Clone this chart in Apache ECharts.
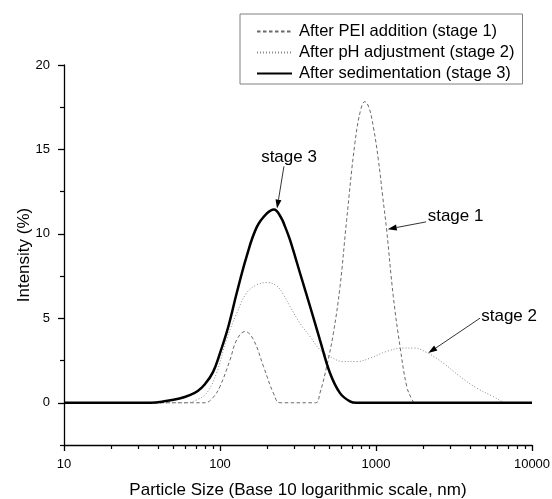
<!DOCTYPE html>
<html><head><meta charset="utf-8">
<script src="https://cdn.jsdelivr.net/npm/echarts@6/dist/echarts.min.js"></script>
<style>html,body{margin:0;padding:0;background:#fff}#c{width:552px;height:499px}</style>
</head><body><div id="c"></div>
<script>
// ---- data (particle size in nm, intensity in %) ----
const seriesNames = ['After PEI addition (stage 1)', 'After pH adjustment (stage 2)', 'After sedimentation (stage 3)'];

const stage1Size  = [10, 80, 90, 100, 116, 128, 145, 164, 190, 220, 243, 410, 437, 483, 533, 588, 648, 733, 800, 849, 900, 961, 1035, 1104, 1170, 1291, 1426, 1574, 1700, 1780, 10000];
const stage1Value = [0, 0, 0.3, 0.97, 2.54, 3.73, 4.22, 3.73, 2.15, 0.57, 0, 0, 0.57, 2.15, 4.12, 6.88, 10.8, 15.4, 17.4, 17.83, 17.5, 16.35, 14.4, 12.2, 10.24, 6.29, 3.33, 0.97, 0.2, 0, 0];

const stage2Size  = [10, 60, 70, 82, 95, 110, 128, 148, 172, 200, 231, 255, 281, 326, 378, 437, 507, 617, 752, 916, 1170, 1497, 1738, 2115, 2698, 3452, 4414, 5648, 6400, 6800, 10000];
const stage2Value = [0, 0, 0.15, 0.57, 1.76, 3.73, 5.3, 6.5, 6.98, 7.12, 6.92, 6.4, 5.7, 4.7, 3.92, 3.14, 2.74, 2.44, 2.44, 2.64, 3.04, 3.24, 3.24, 2.98, 2.35, 1.56, 0.87, 0.37, 0.08, 0, 0];

const stage3Size  = [10, 36, 45, 55, 64, 72, 80, 90, 100, 113, 128, 148, 172, 199, 222, 245, 262, 281, 326, 378, 437, 507, 588, 681, 750, 10000];
const stage3Value = [0, 0, 0.1, 0.25, 0.45, 0.7, 1.1, 1.8, 2.94, 4.5, 6.5, 8.66, 10.4, 11.2, 11.45, 11.0, 10.4, 9.64, 7.67, 5.7, 3.73, 1.76, 0.57, 0.08, 0, 0];

const xMajorTicks = [10, 100, 1000, 10000];
const xMinorTicks = [20, 30, 40, 50, 60, 70, 80, 90, 200, 300, 400, 500, 600, 700, 800, 900, 2000, 3000, 4000, 5000, 6000, 7000, 8000, 9000];
const yMajorTicks = [0, 5, 10, 15, 20];
const yMinorTicks = [-2.5, 2.5, 7.5, 12.5, 17.5];

// annotations: label, text centre [size, %], arrow start [size, %], arrow tip [size, %]
const annLabels = ['stage 3', 'stage 1', 'stage 2'];
const annText  = [[277, 14.56], [3236, 11.07], [7130, 5.12]];
const annFrom  = [[257, 14.0], [2094, 10.71], [4642, 5.01]];
const annTip   = [[232, 11.5], [1189, 10.28], [2163, 2.94]];

const zip = (a, b) => a.map((v, i) => [v, b[i]]);

const chart = echarts.init(document.getElementById('c'), null, {renderer: 'canvas'});
const font = 'Liberation Sans, Arial, sans-serif';

const xBase = {
  type: 'log', logBase: 10, min: 10, max: 10000, position: 'bottom', gridIndex: 0,
  splitLine: {show: false}
};
const yBase = {
  type: 'value', min: -2.5, max: 20, position: 'left', gridIndex: 0,
  splitLine: {show: false}
};

chart.setOption({
  animation: false,
  backgroundColor: '#fff',
  textStyle: {fontFamily: font},
  grid: {left: 64, right: 20, top: 65, bottom: 54, containLabel: false, outerBoundsMode: 'none'},
  legend: {
    orient: 'vertical', left: 240, top: 14,
    borderColor: '#808080', borderWidth: 1, backgroundColor: '#fff',
    padding: [9, 8, 2, 16], itemWidth: 35, itemHeight: 14, itemGap: 4,
    itemStyle: {color: 'rgba(0,0,0,0)', borderWidth: 0, opacity: 0},
    textStyle: {fontSize: 16.5, color: '#000', fontFamily: font, padding: [0, 0, 0, 2]},
    data: seriesNames
  },
  xAxis: [
    Object.assign({}, xBase, {
      name: 'Particle Size (Base 10 logarithmic scale, nm)',
      nameLocation: 'middle', nameGap: 37, nameMoveOverlap: false,
      nameTextStyle: {fontSize: 17, color: '#000', fontFamily: font},
      axisLine: {show: true, onZero: false, lineStyle: {color: '#000', width: 1.3}},
      axisTick: {show: true, inside: false, length: 6, customValues: xMajorTicks, lineStyle: {color: '#000', width: 1.3}},
      axisLabel: {show: true, customValues: xMajorTicks, fontSize: 13, color: '#000', margin: 13, fontFamily: font,
        formatter: v => String(Math.round(v))}
    }),
    Object.assign({}, xBase, {
      axisLine: {show: false, onZero: false},
      axisTick: {show: true, inside: false, length: 4, customValues: xMinorTicks, lineStyle: {color: '#000', width: 1.2}},
      axisLabel: {show: false}
    })
  ],
  yAxis: [
    Object.assign({}, yBase, {
      name: 'Intensity (%)', nameLocation: 'middle', nameGap: 31, nameMoveOverlap: false,
      nameTextStyle: {fontSize: 17, color: '#000', fontFamily: font},
      axisLine: {show: true, onZero: false, lineStyle: {color: '#000', width: 1.3}},
      axisTick: {show: true, inside: false, length: 6, customValues: yMajorTicks, lineStyle: {color: '#000', width: 1.3}},
      axisLabel: {show: true, customValues: yMajorTicks, fontSize: 13, color: '#000', margin: 14, fontFamily: font}
    }),
    Object.assign({}, yBase, {
      axisLine: {show: false, onZero: false},
      axisTick: {show: true, inside: false, length: 4, customValues: yMinorTicks, lineStyle: {color: '#000', width: 1.2}},
      axisLabel: {show: false}
    })
  ],
  series: [
    {name: seriesNames[0], type: 'line', xAxisIndex: 0, yAxisIndex: 0, data: zip(stage1Size, stage1Value),
     showSymbol: false, symbol: 'none', smooth: 0.4, z: 2,
     lineStyle: {color: '#6a6a6a', width: 1, type: [3.5, 2.5]}, itemStyle: {color: '#6a6a6a'}},
    {name: seriesNames[1], type: 'line', xAxisIndex: 0, yAxisIndex: 0, data: zip(stage2Size, stage2Value),
     showSymbol: false, symbol: 'none', smooth: 0.4, z: 2,
     lineStyle: {color: '#8a8a8a', width: 1, type: [1, 2]}, itemStyle: {color: '#8a8a8a'}},
    {name: seriesNames[2], type: 'line', xAxisIndex: 0, yAxisIndex: 0, data: zip(stage3Size, stage3Value),
     showSymbol: false, symbol: 'none', smooth: 0.4, z: 3,
     lineStyle: {color: '#000', width: 2.5}, itemStyle: {color: '#000'}}
  ]
});

// annotation text and arrows positioned through the chart's own scales
const g = [];
annLabels.forEach((lab, i) => {
  const t = chart.convertToPixel({gridIndex: 0}, annText[i]);
  const a = chart.convertToPixel({gridIndex: 0}, annFrom[i]);
  const b = chart.convertToPixel({gridIndex: 0}, annTip[i]);
  g.push({type: 'text', x: t[0], y: t[1], z: 10,
    style: {text: lab, fontSize: 17, fontFamily: font, fill: '#000', align: 'center', verticalAlign: 'middle'}});
  const dx = b[0] - a[0], dy = b[1] - a[1];
  const L = Math.sqrt(dx * dx + dy * dy), ux = dx / L, uy = dy / L;
  const hl = 9, hw = 3;
  const bx = b[0] - ux * hl, by = b[1] - uy * hl;
  g.push({type: 'line', z: 10, shape: {x1: a[0], y1: a[1], x2: bx, y2: by}, style: {stroke: '#000', lineWidth: 0.8}});
  g.push({type: 'polygon', z: 10, shape: {points: [[b[0], b[1]], [bx - uy * hw, by + ux * hw], [bx + uy * hw, by - ux * hw]]},
    style: {fill: '#000'}});
});
chart.setOption({graphic: g});
</script>
</body></html>
